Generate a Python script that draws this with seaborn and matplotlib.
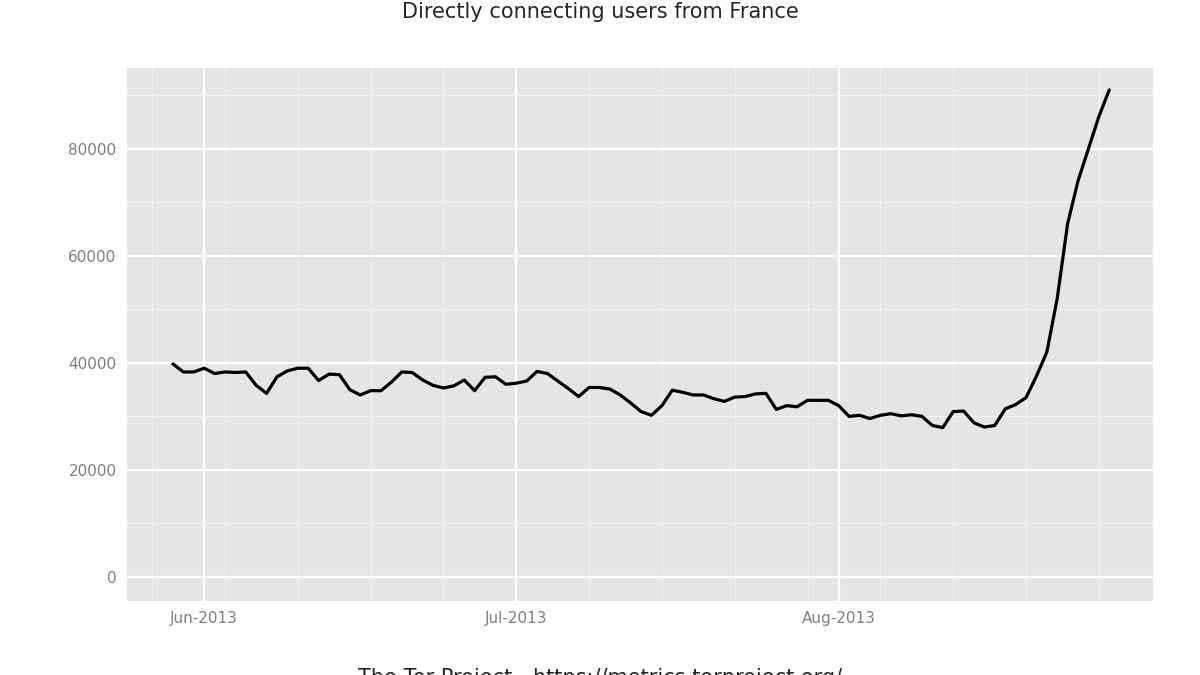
import pandas as pd
import numpy as np
import matplotlib
matplotlib.use("Agg")
import matplotlib.pyplot as plt
import matplotlib.dates as mdates
import seaborn as sns

# Daily directly connecting users from France, 2013-05-29 .. 2013-08-27
start_date = "2013-05-29"
users = [
    39800, 38300, 38300,
    39000, 38000, 38300, 38200, 38300, 35800, 34300, 37400, 38500, 39000,
    39000, 36700, 37900, 37800, 35000, 34000, 34800, 34800, 36400, 38300,
    38200, 36800, 35800, 35300, 35700, 36800, 34800, 37300, 37400, 36000,
    36200, 36600, 38400, 38000, 36600, 35200, 33700, 35400, 35400, 35100,
    34000, 32500, 30900, 30200, 32000, 34900, 34500, 34000, 34000, 33300,
    32800, 33600, 33700, 34200, 34300, 31300, 32000, 31800, 33000, 33000, 33000,
    32000, 30000, 30200, 29600, 30200, 30500, 30100, 30300, 30000, 28300,
    27900, 30900, 31000, 28800, 28000, 28300, 31400, 32200, 33500, 37500,
    42000, 52000, 66000, 74000, 80000, 86000, 91000,
]
y_ticks = [0, 20000, 40000, 60000, 80000]

df = pd.DataFrame({
    "date": pd.date_range(start_date, periods=len(users), freq="D"),
    "users": users,
})

sns.set_style("darkgrid", {"axes.facecolor": "#E5E5E5", "grid.color": "white"})
plt.rcParams["font.family"] = ["DejaVu Sans"]

fig = plt.figure(figsize=(12, 6.75), dpi=100)
ax = fig.add_axes([127 / 1200, 1 - 601 / 675, (1153 - 127) / 1200, (601 - 68) / 675])
sns.lineplot(data=df, x="date", y="users", color="black", linewidth=2.3, ax=ax)

ax.set_xlim(pd.Timestamp("2013-05-24 14:00"), pd.Timestamp("2013-08-31 05:00"))
ax.set_ylim(-4500, 95100)
ax.set_yticks(y_ticks)
ax.set_yticks([10000, 30000, 50000, 70000, 90000], minor=True)
ax.xaxis.set_major_locator(mdates.MonthLocator())
ax.xaxis.set_major_formatter(mdates.DateFormatter("%b-%Y"))
ax.xaxis.set_minor_locator(mdates.WeekdayLocator(byweekday=mdates.MO))
ax.grid(which="major", color="white", linewidth=1.6)
ax.grid(which="minor", color="#F2F2F2", linewidth=0.8)
ax.tick_params(which="major", length=4, color="#7F7F7F", labelcolor="#7F7F7F", labelsize=11)
ax.tick_params(which="minor", length=0)
ax.set_xlabel("")
ax.set_ylabel("")
for s in ax.spines.values():
    s.set_visible(False)

fig.text(0.5, 1 - 12 / 675, "Directly connecting users from France", ha="center",
         va="center", fontsize=15)
fig.text(0.5, 1 - 678 / 675, "The Tor Project - https://metrics.torproject.org/",
         ha="center", va="center", fontsize=15)

fig.savefig("out.png", dpi=100)
